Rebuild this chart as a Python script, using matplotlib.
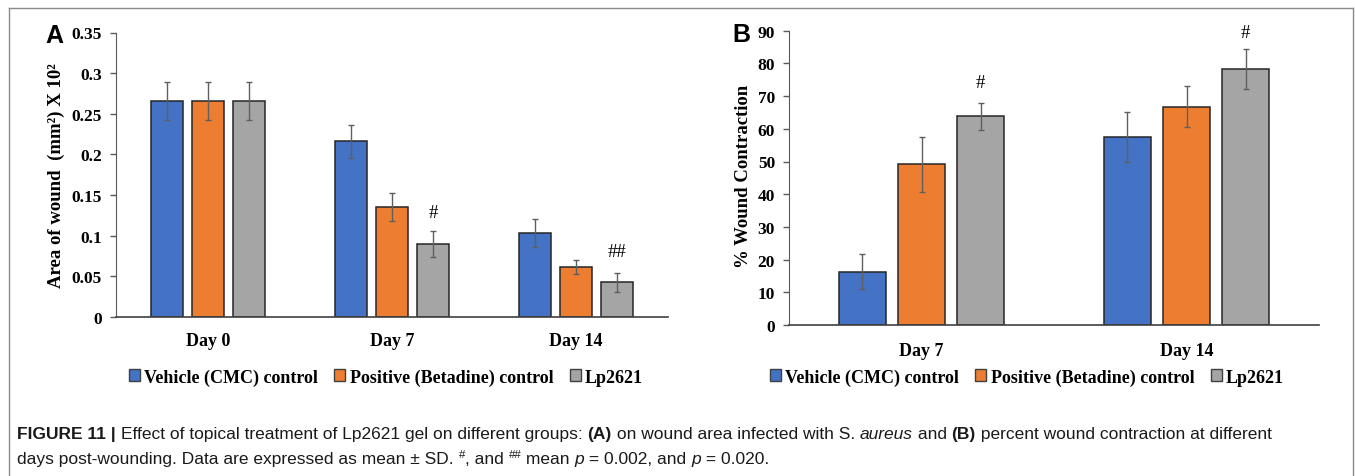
import matplotlib
matplotlib.use("Agg")
from matplotlib import pyplot as plt
from matplotlib.patches import Patch
from matplotlib.lines import Line2D
import numpy as np

# data
groups = ["Vehicle (CMC) control", "Positive (Betadine) control", "Lp2621"]
colors = ["#4472C4", "#ED7D31", "#A5A5A5"]

days_a = ["Day 0", "Day 7", "Day 14"]
area_mean = [[0.266, 0.216, 0.103],
             [0.266, 0.135, 0.062],
             [0.266, 0.090, 0.043]]
area_sd = [[0.0235, 0.020, 0.017],
           [0.0235, 0.017, 0.0085],
           [0.0235, 0.016, 0.0117]]
ticks_a = [0, 0.05, 0.1, 0.15, 0.2, 0.25, 0.3, 0.35]
ticklabels_a = ["0", "0.05", "0.1", "0.15", "0.2", "0.25", "0.3", "0.35"]
marks_a = [(1, "#", 0.129), (2, "##", 0.081)]

days_b = ["Day 7", "Day 14"]
contr_mean = [[16.3, 57.4],
              [49.2, 66.8],
              [63.8, 78.3]]
contr_sd = [[5.4, 7.7],
            [8.4, 6.4],
            [4.1, 6.0]]
ticks_b = [0, 10, 20, 30, 40, 50, 60, 70, 80, 90]
marks_b = [(0, "#", 74.3), (1, "#", 89.4)]

W, H = 1355, 477
fig = plt.figure(figsize=(W / 100, H / 100), dpi=100)
fig.patch.set_facecolor("white")

serif = "Liberation Serif"
sans = "Liberation Sans"


def fx(px):
    return px / W


def fy(py):
    return 1 - py / H


def draw_panel(ax, days, means, sds, ticks, ticklabels, ymax, marks, tickpad):
    x = np.arange(len(days))
    width = 0.175
    step = 0.223
    for i in range(3):
        ax.bar(x + (i - 1) * step, means[i], width, color=colors[i],
               edgecolor="#262626", linewidth=1.1, zorder=2)
        ax.errorbar(x + (i - 1) * step, means[i], yerr=sds[i], fmt="none",
                    ecolor="#5f5f5f", elinewidth=1.0, capsize=2.5, capthick=1.0, zorder=3)
    for ci, txt, yy in marks:
        ax.text(ci + step, yy, txt, ha="center", va="center",
                fontsize=13.5, family=serif)
    ax.set_xlim(-0.5, len(days) - 0.5)
    ax.set_ylim(0, ymax)
    ax.set_yticks(ticks)
    ax.set_yticklabels(ticklabels, fontsize=12.5, family=serif, fontweight="bold")
    ax.set_xticks(x)
    ax.set_xticklabels(days, fontsize=13, family=serif, fontweight="bold")
    ax.tick_params(axis="x", length=0, pad=tickpad)
    ax.tick_params(axis="y", direction="out", length=4, width=1, color="#595959", pad=6)
    for s in ["top", "right"]:
        ax.spines[s].set_visible(False)
    ax.spines["left"].set_color("#595959")
    ax.spines["bottom"].set_color("#404040")
    ax.spines["bottom"].set_linewidth(1.2)


# panel A
axA = fig.add_axes([fx(116), fy(318), fx(668 - 116), (318 - 33.5) / H])
draw_panel(axA, days_a, area_mean, area_sd, ticks_a, ticklabels_a, 0.35, marks_a, 11)
fig.text(fx(56), fy(176), "Area of wound  (mm\u00b2) X 10\u00b2", rotation=90,
         ha="center", va="center", fontsize=13.5, family=serif, fontweight="bold")
fig.text(fx(45), fy(36), "A", ha="left", va="center", fontsize=18,
         family=sans, fontweight="bold")

# panel B
axB = fig.add_axes([fx(789), fy(326), fx(1319 - 789), (326 - 31.7) / H])
draw_panel(axB, days_b, contr_mean, contr_sd, ticks_b, [str(t) for t in ticks_b],
           90, marks_b, 12)
fig.text(fx(744), fy(176), "% Wound Contraction", rotation=90,
         ha="center", va="center", fontsize=13.5, family=serif, fontweight="bold")
fig.text(fx(732), fy(35), "B", ha="left", va="center", fontsize=18,
         family=sans, fontweight="bold")

# legends
handles = [Patch(facecolor=c, edgecolor="#404040", linewidth=1.0) for c in colors]
for cx in [386, 1027]:
    fig.legend(handles, groups, loc="center", bbox_to_anchor=(fx(cx), fy(378)),
               ncol=3, frameon=False, handlelength=0.6, handleheight=0.6,
               handletextpad=0.25, columnspacing=0.9,
               prop={"family": serif, "weight": "bold", "size": 13})

# frame round the figure
frame_kw = dict(color="#8a8a8a", linewidth=1.0, transform=fig.transFigure)
fig.add_artist(Line2D([fx(9), fx(1353)], [fy(9), fy(9)], **frame_kw))
fig.add_artist(Line2D([fx(9), fx(9)], [fy(9), 0], **frame_kw))
fig.add_artist(Line2D([fx(1353), fx(1353)], [fy(9), 0], **frame_kw))

# caption, written piece by piece
cap_size = 12.55
line1 = [("FIGURE 11 | ", "bold", "normal"),
         ("Effect of topical treatment of Lp2621 gel on different groups: ", "normal", "normal"),
         ("(A)", "bold", "normal"),
         (" on wound area infected with S. ", "normal", "normal"),
         ("aureus", "normal", "italic"),
         (" and ", "normal", "normal"),
         ("(B)", "bold", "normal"),
         (" percent wound contraction at different", "normal", "normal")]
line2 = [("days post-wounding. Data are expressed as mean \u00b1 SD. ", "normal", "normal"),
         ("#", "sup", "normal"),
         (", and ", "normal", "normal"),
         ("##", "sup", "normal"),
         (" mean ", "normal", "normal"),
         ("p", "normal", "italic"),
         (" = 0.002, and ", "normal", "normal"),
         ("p", "normal", "italic"),
         (" = 0.020.", "normal", "normal")]

fig.canvas.draw()
renderer = fig.canvas.get_renderer()
for pieces, base in [(line1, 439), (line2, 464)]:
    xpos = 17
    for txt, weight, style in pieces:
        size = cap_size
        ypos = base
        if weight == "sup":
            size = cap_size * 0.65
            ypos = base - 6
            weight = "normal"
        t = fig.text(fx(xpos), fy(ypos), txt, ha="left", va="baseline",
                     fontsize=size, family=sans, fontweight=weight, fontstyle=style,
                     color="#1a1a1a")
        bb = t.get_window_extent(renderer=renderer)
        xpos += bb.width

fig.savefig("out.png", dpi=100)
